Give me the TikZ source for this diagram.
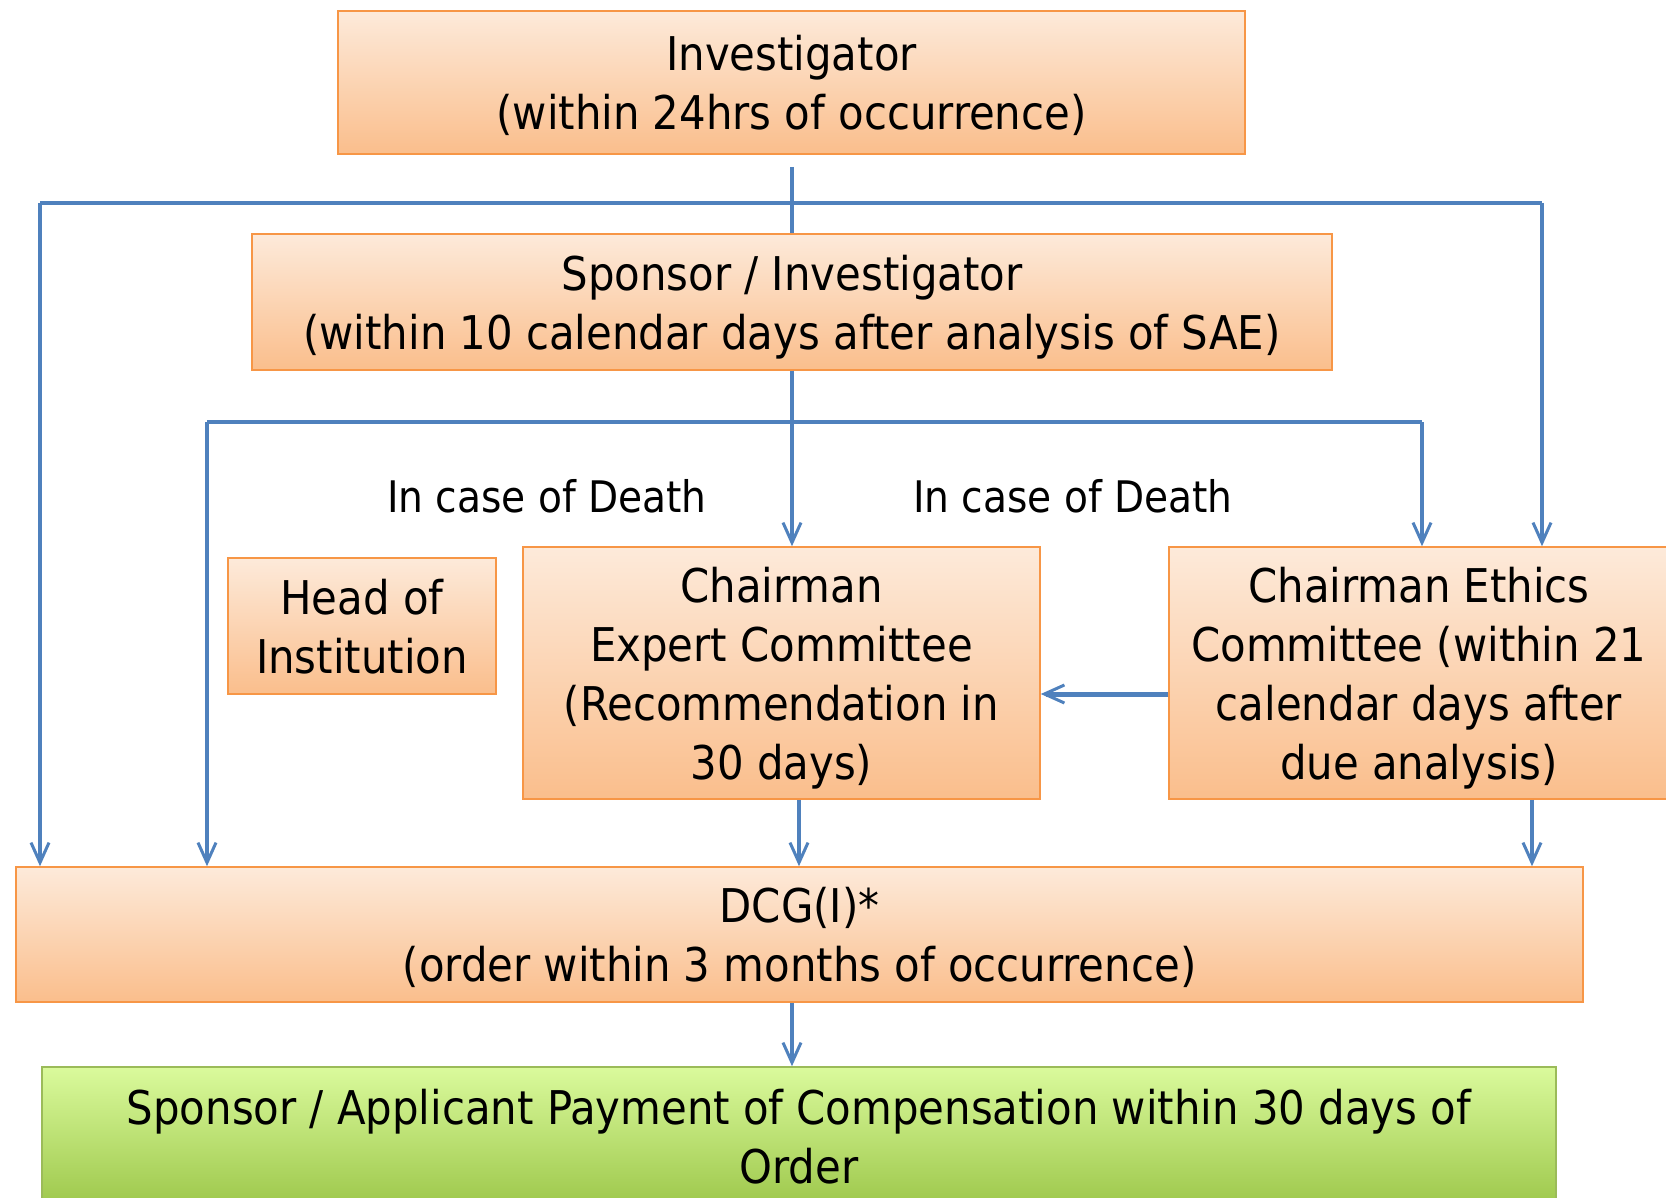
\documentclass[tikz,border=0pt]{standalone}
\usepackage{fontspec}
\setmainfont{DejaVu Sans Condensed}
\usetikzlibrary{arrows.meta}
\definecolor{peachtop}{RGB}{253,234,218}
\definecolor{peachbot}{RGB}{250,190,140}
\definecolor{peachline}{RGB}{247,150,70}
\definecolor{greentop}{RGB}{218,250,156}
\definecolor{greenbot}{RGB}{158,200,76}
\definecolor{greenline}{RGB}{155,187,89}
\definecolor{linkblue}{RGB}{79,129,189}
\begin{document}
\begin{tikzpicture}[x=1pt,y=1pt,
  every node/.style={font=\fontsize{46.5}{59}\selectfont},
  box/.style={draw=peachline,line width=1.5pt,top color=peachtop,bottom color=peachbot,
    align=center,inner sep=0pt,text depth=0pt,anchor=center},
  paybox/.style={box,draw=greenline,top color=greentop,bottom color=greenbot},
  note/.style={font=\fontsize{43.5}{52}\selectfont},
  link/.style={draw=linkblue,line width=3.5pt},
  arr/.style={link,-{Straight Barb[length=20pt,width=18pt,line width=3pt]}}]
\useasboundingbox (0,0) rectangle (1666,-1198);
% boxes
\node[box,minimum width=907,minimum height=143] (inv) at (791.5,-82.5)
  {Investigator\\(within 24hrs of occurrence)};
\node[box,minimum width=1080,minimum height=136] (spon) at (792,-302)
  {Sponsor / Investigator\\(within 10 calendar days after analysis of SAE)};
\node[box,minimum width=268,minimum height=136] (head) at (362,-626)
  {Head of\\Institution};
\node[box,minimum width=517,minimum height=252] (expert) at (781.5,-673)
  {Chairman\\Expert Committee\\(Recommendation in\\30 days)};
\node[box,minimum width=500,minimum height=252] (ethics) at (1419,-673)
  {Chairman Ethics\\Committee (within 21\\calendar days after\\due analysis)};
\node[box,minimum width=1567,minimum height=135] (dcg) at (799.5,-934.5)
  {DCG(I)*\\(order within 3 months of occurrence)};
\node[paybox,minimum width=1514,minimum height=138] (pay) at (799,-1136)
  {Sponsor / Applicant Payment of Compensation within 30 days of\\Order};
% labels
\node[note] (death1) at (547,-496) {In case of Death};
\node[note] (death2) at (1073,-496) {In case of Death};
% junctions
\coordinate (invstub) at (792,-167);
\coordinate (barL) at (40,-203);
\coordinate (barR) at (1542,-203);
\coordinate (bartwoL) at (207,-422);
\coordinate (bartwoR) at (1422,-422);
% connectors
\draw[link] (invstub) -- (invstub |- spon.north);
\draw[link] (barL) -- (barR);
\draw[arr] (barL) -- (barL |- dcg.north);
\draw[arr] (barR) -- (barR |- ethics.north);
\draw[link] (bartwoL) -- (bartwoR);
\draw[arr] (spon.south) -- (spon.south |- expert.north);
\draw[arr] (bartwoL) -- (bartwoL |- dcg.north);
\draw[arr] (bartwoR) -- (bartwoR |- ethics.north);
\draw[arr,line width=5pt] ([yshift=-21pt]ethics.west) -- ([yshift=-21pt]ethics.west -| expert.east);
\draw[arr] ([xshift=17.5pt]expert.south) -- ([xshift=17.5pt]expert.south |- dcg.north);
\draw[arr] ([xshift=113pt]ethics.south) -- ([xshift=113pt]ethics.south |- dcg.north);
\draw[arr] ([xshift=-7.5pt]dcg.south) -- ([xshift=-7.5pt]dcg.south |- pay.north);
\end{tikzpicture}
\end{document}
